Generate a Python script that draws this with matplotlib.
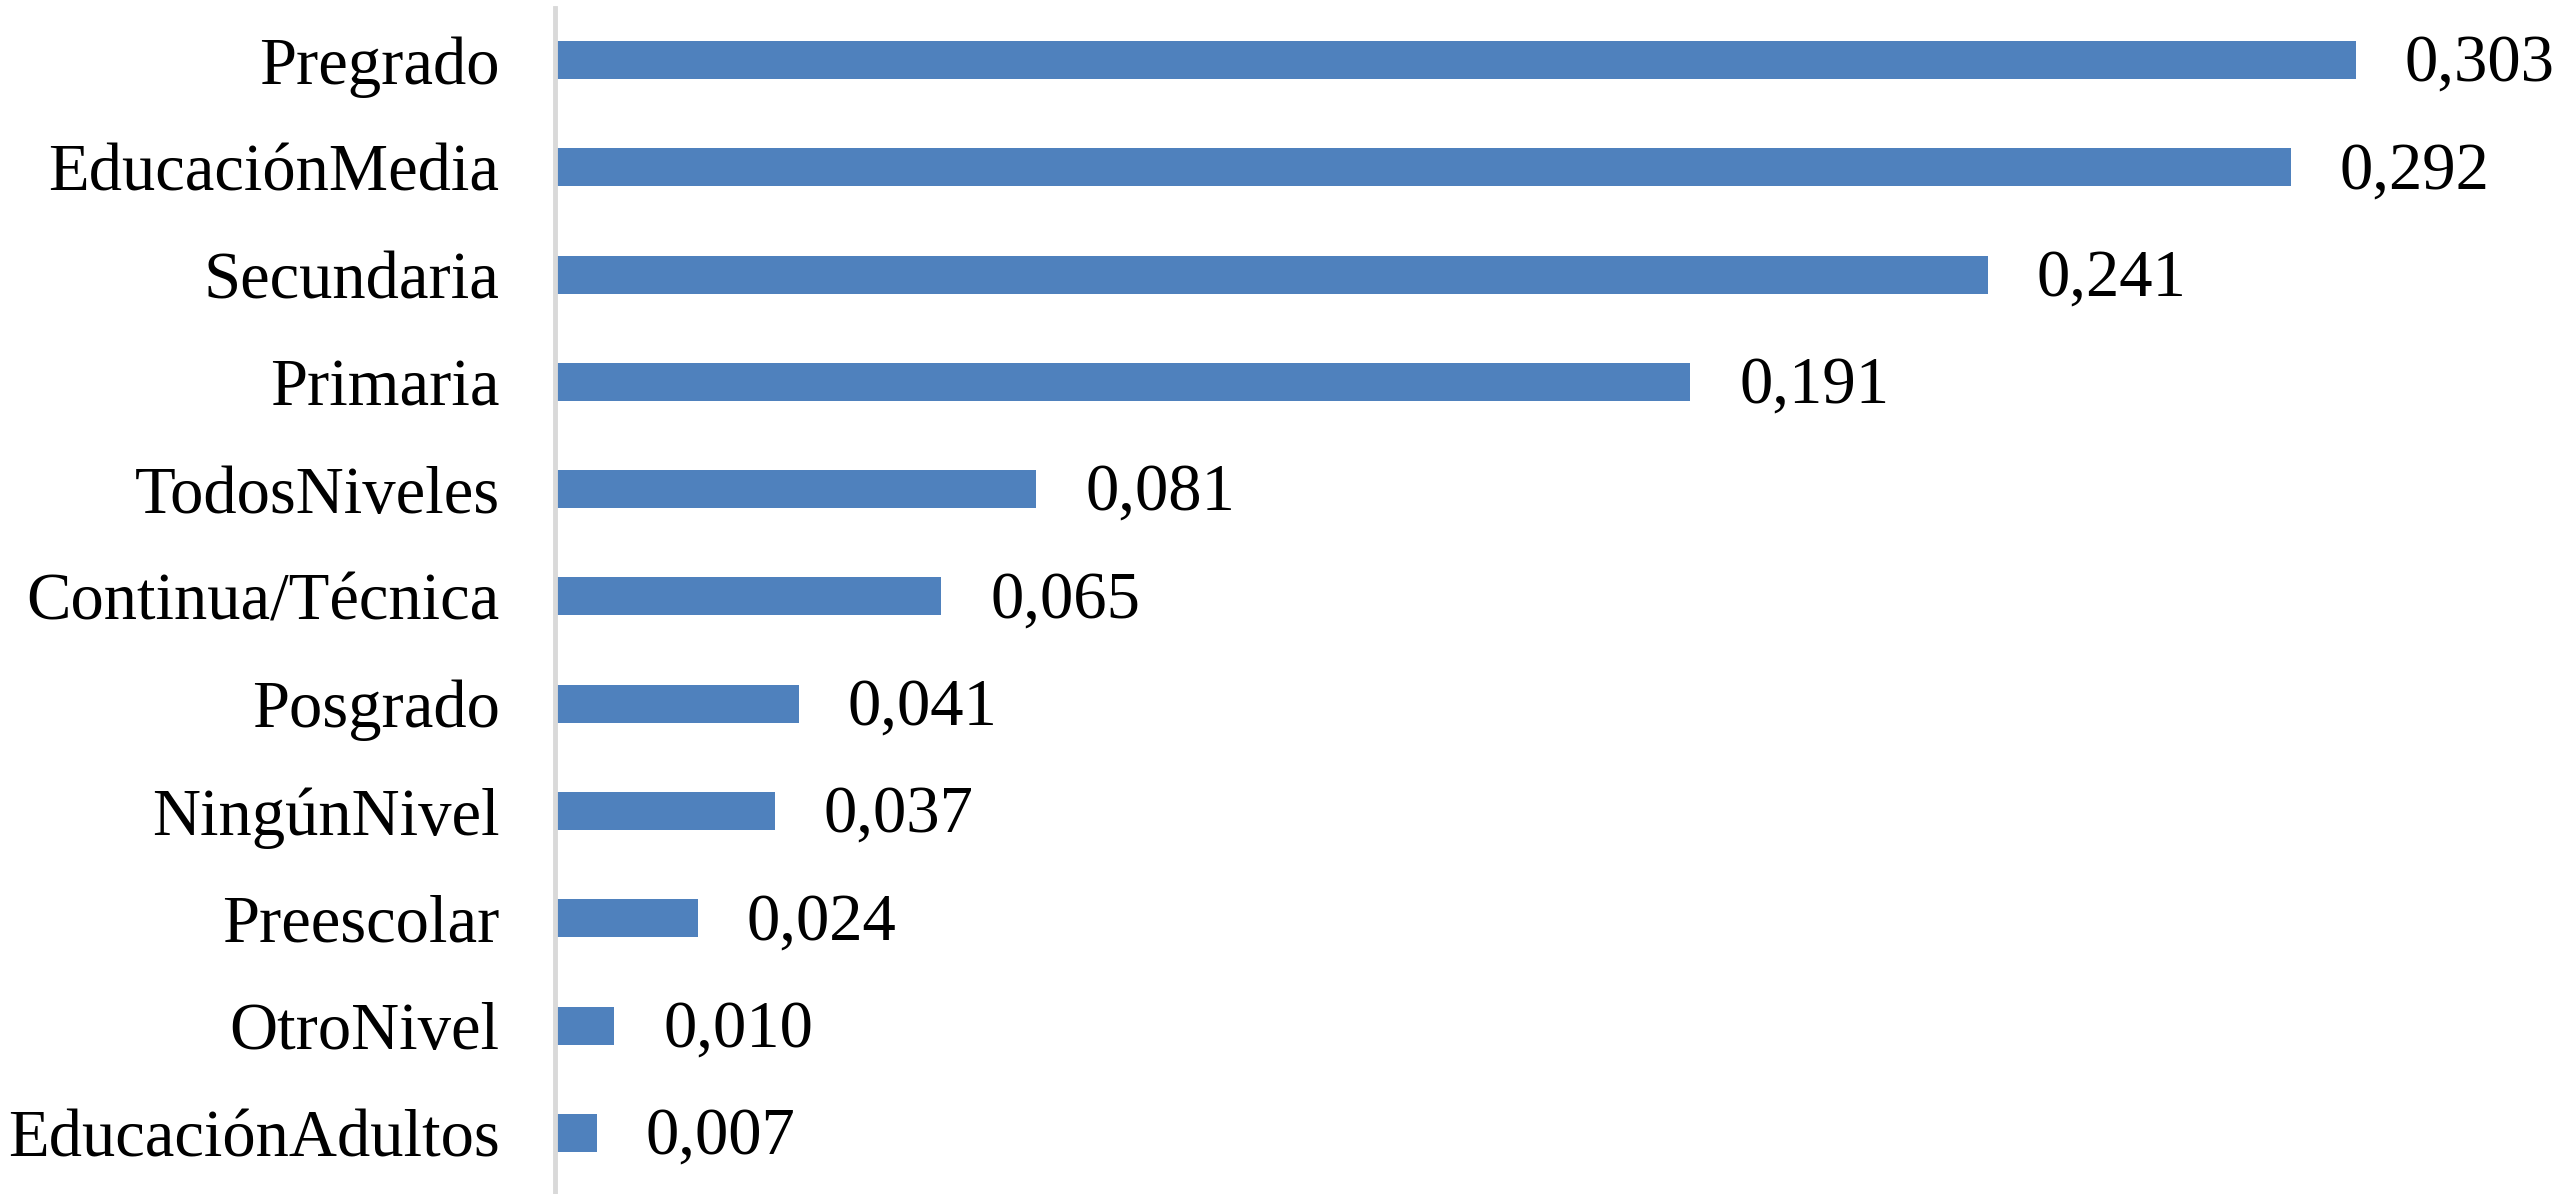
import matplotlib.pyplot as plt

# datos del grafico
niveles = ['Pregrado', 'EducaciónMedia', 'Secundaria', 'Primaria', 'TodosNiveles',
           'Continua/Técnica', 'Posgrado', 'NingúnNivel', 'Preescolar',
           'OtroNivel', 'EducaciónAdultos']
valores = [0.303, 0.292, 0.241, 0.191, 0.081, 0.065, 0.041, 0.037, 0.024, 0.010, 0.007]
etiquetas = ['0,303', '0,292', '0,241', '0,191', '0,081', '0,065', '0,041',
             '0,037', '0,024', '0,010', '0,007']

plt.rcParams['font.family'] = ['Liberation Serif', 'DejaVu Serif']

fig = plt.figure(figsize=(25.6, 11.94), dpi=100)
ax = fig.add_axes([555 / 2560, 0, (2560 - 555) / 2560, (1194 - 8) / 1194])

n = len(niveles)
pos = [n - 1 - i for i in range(n)]
ax.barh(pos, valores, height=0.355, color='#4F81BD')

for p, v, t in zip(pos, valores, etiquetas):
    ax.text(v + 0.0082, p - 0.04, t, va='center', ha='left', fontsize=48)

ax.set_yticks(pos)
ax.set_yticklabels(niveles, fontsize=48)
ax.tick_params(axis='y', length=0, pad=40)
ax.set_xticks([])
ax.set_xlim(0, (2560 - 555) / 5944)
ax.set_ylim(-0.57, n - 1 + 0.485)

for s in ['top', 'right', 'bottom']:
    ax.spines[s].set_visible(False)
ax.spines['left'].set_color('#D9D9D9')
ax.spines['left'].set_linewidth(3.5)

fig.savefig('out.png', dpi=100)
